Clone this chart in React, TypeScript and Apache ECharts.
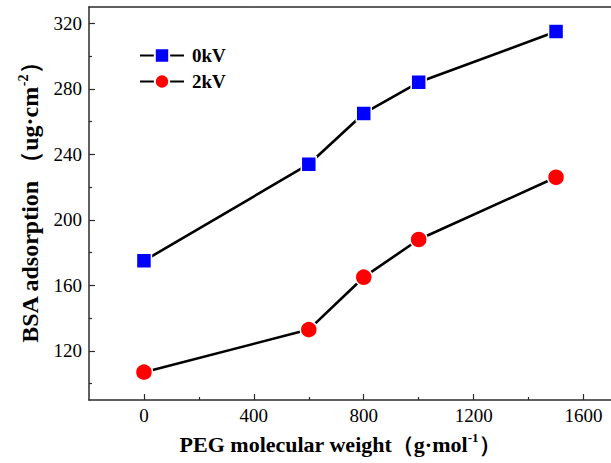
import React, { useEffect, useRef } from "react";
import * as echarts from "echarts";

const xValues = [0, 600, 800, 1000, 1500];
const kv0 = [175, 234, 265, 284, 315];
const kv2 = [107, 133, 165, 188, 226];
const seriesNames = ["0kV", "2kV"];
const xLabelValues = [0, 400, 800, 1200, 1600];
const xMinorTicks = [200, 600, 1000, 1400];
const yLabelValues = [120, 160, 200, 240, 280, 320];
const yMinorTicks = [100, 140, 180, 220, 260, 300];

const FONT = "'Times New Roman', 'Liberation Serif', serif";
const AXIS_COLOR = "#2b2b2b";

export default function App() {
  const ref = useRef<HTMLDivElement>(null);
  useEffect(() => {
    if (!ref.current) return;
    const chart = echarts.init(ref.current, null, { renderer: "svg" });
    const tickLabelStyle = {
      color: "#000",
      fontFamily: FONT,
      fontSize: 19,
      formatter: (v: number) => String(v),
    };
    const line = (show: boolean) => ({ show, onZero: false, lineStyle: { color: AXIS_COLOR, width: 1.5 } });
    const option: any = {
      animation: false,
      backgroundColor: "#fff",
      textStyle: { fontFamily: FONT },
      grid: { left: 89, top: 7, right: -3, bottom: 63, containLabel: false },
      legend: {
        left: 134,
        top: 41,
        orient: "vertical",
        itemWidth: 44,
        itemHeight: 18,
        itemGap: 7,
        data: seriesNames,
        textStyle: { fontFamily: FONT, fontSize: 19, fontWeight: "bold", color: "#000", padding: [0, 0, 0, 3] },
      },
      xAxis: [
        {
          type: "value",
          min: -200,
          max: 1700,
          position: "bottom",
          splitLine: { show: false },
          axisLine: line(true),
          axisTick: { show: true, inside: true, length: 6, customValues: xLabelValues, lineStyle: { color: AXIS_COLOR, width: 1.2 } },
          axisLabel: { show: true, customValues: xLabelValues, margin: 6, ...tickLabelStyle },
        },
        {
          type: "value",
          min: -200,
          max: 1700,
          position: "bottom",
          splitLine: { show: false },
          axisLine: line(false),
          axisTick: { show: true, inside: true, length: 3, customValues: xMinorTicks, lineStyle: { color: AXIS_COLOR, width: 1.2 } },
          axisLabel: { show: false },
        },
        {
          type: "value",
          min: -200,
          max: 1700,
          position: "top",
          splitLine: { show: false },
          axisLine: line(true),
          axisTick: { show: false },
          axisLabel: { show: false },
        },
      ],
      yAxis: [
        {
          type: "value",
          min: 90,
          max: 330,
          position: "left",
          splitLine: { show: false },
          axisLine: line(true),
          axisTick: { show: true, inside: true, length: 6, customValues: yLabelValues, lineStyle: { color: AXIS_COLOR, width: 1.2 } },
          axisLabel: { show: true, customValues: yLabelValues, margin: 7, ...tickLabelStyle },
        },
        {
          type: "value",
          min: 90,
          max: 330,
          position: "left",
          splitLine: { show: false },
          axisLine: line(false),
          axisTick: { show: true, inside: true, length: 3, customValues: yMinorTicks, lineStyle: { color: AXIS_COLOR, width: 1.2 } },
          axisLabel: { show: false },
        },
      ],
      series: [
        {
          name: seriesNames[0],
          type: "line",
          data: xValues.map((x, i) => [x, kv0[i]]),
          symbol: "rect",
          symbolSize: 15,
          itemStyle: { color: "#0000ff", borderColor: "#fff", borderWidth: 1.5 },
          lineStyle: { color: "#000", width: 2.6 },
          z: 3,
        },
        {
          name: seriesNames[1],
          type: "line",
          data: xValues.map((x, i) => [x, kv2[i]]),
          symbol: "circle",
          symbolSize: 17,
          itemStyle: { color: "#ff0000", borderColor: "#fff", borderWidth: 1.5 },
          lineStyle: { color: "#000", width: 2.6 },
          z: 3,
        },
      ],
      graphic: [
        {
          type: "text",
          x: 30,
          y: 197,
          rotation: Math.PI / 2,
          style: {
            text: "{b|BSA adsorption （ug·cm}{s|-2}{b|）}",
            align: "center",
            verticalAlign: "middle",
            rich: {
              b: { fontFamily: FONT, fontSize: 24, fontWeight: "bold", fill: "#000", lineHeight: 28 },
              s: { fontFamily: FONT, fontSize: 14, fontWeight: "bold", fill: "#000", verticalAlign: "top", lineHeight: 28, padding: [0, 0, 11, 0] },
            },
          },
        },
        {
          type: "text",
          x: 340,
          y: 444,
          style: {
            text: "{b|PEG molecular weight（g·mol}{s|-1}{b|）}",
            align: "center",
            verticalAlign: "middle",
            rich: {
              b: { fontFamily: FONT, fontSize: 22, fontWeight: "bold", fill: "#000", lineHeight: 26 },
              s: { fontFamily: FONT, fontSize: 13, fontWeight: "bold", fill: "#000", verticalAlign: "top", lineHeight: 26, padding: [0, 0, 10, 0] },
            },
          },
        },
      ],
    };
    chart.setOption(option);
    return () => chart.dispose();
  }, []);
  return (
    <div
      ref={ref}
      style={{ position: "fixed", left: 0, top: 0, width: 611, height: 463, background: "#fff" }}
    />
  );
}
